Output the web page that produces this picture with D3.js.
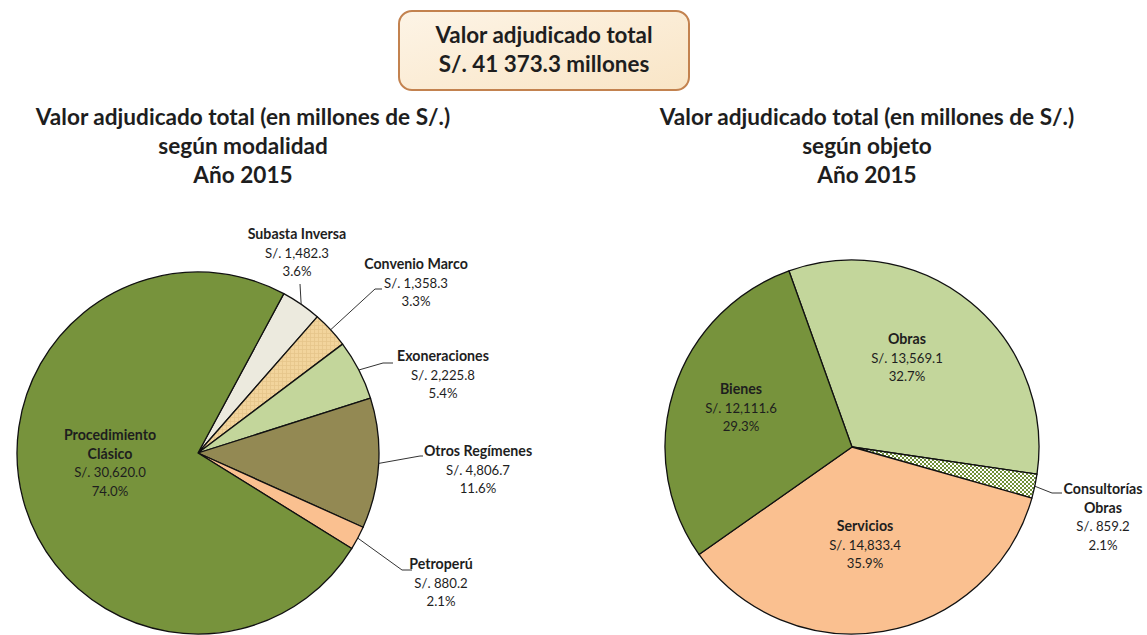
<!DOCTYPE html>
<html><head><meta charset="utf-8">
<script src="https://cdn.jsdelivr.net/npm/d3@7"></script>
<style>
html,body{margin:0;padding:0;background:#fff;}
svg{display:block;font-family:Lato,"Open Sans",sans-serif;}
</style></head>
<body><svg id="c" width="1147" height="635"></svg>
<script>
// ---------- data ----------
const modalidadCats = ["Subasta Inversa","Convenio Marco","Exoneraciones","Otros Regímenes","Petroperú","Procedimiento Clásico"];
const modalidadVals = [1482.3, 1358.3, 2225.8, 4806.7, 880.2, 30620.0];
const modalidadPct  = ["3.6%","3.3%","5.4%","11.6%","2.1%","74.0%"];
const objetoCats = ["Obras","Consultorías Obras","Servicios","Bienes"];
const objetoVals = [13569.1, 859.2, 14833.4, 12111.6];
const objetoPct  = ["32.7%","2.1%","35.9%","29.3%"];
const totalLabel = "S/. 41 373.3 millones";

// ---------- styles / layout ----------
const svg = d3.select("#c");
const defs = svg.append("defs");
const fmt = d3.format(",.1f");
const ink = "#1e1e1e";

const g1 = defs.append("linearGradient").attr("id","boxg").attr("x1",0).attr("y1",0).attr("x2",1).attr("y2",1);
g1.append("stop").attr("offset","0%").attr("stop-color","#fdf4e6");
g1.append("stop").attr("offset","100%").attr("stop-color","#f9e5c6");

const p1 = defs.append("pattern").attr("id","hatch").attr("patternUnits","userSpaceOnUse").attr("width",4).attr("height",4);
p1.append("rect").attr("width",4).attr("height",4).attr("fill","#f2d49c");
p1.append("path").attr("d","M0,0.5H4M0.5,0V4").attr("stroke","#e6c58a").attr("stroke-width",0.8);

const p2 = defs.append("pattern").attr("id","check").attr("patternUnits","userSpaceOnUse").attr("width",4).attr("height",4);
p2.append("rect").attr("width",4).attr("height",4).attr("fill","#ffffff");
p2.append("rect").attr("width",2).attr("height",2).attr("fill","#6f8f36");
p2.append("rect").attr("x",2).attr("y",2).attr("width",2).attr("height",2).attr("fill","#6f8f36");

const modalidadColors = ["#eceade","url(#hatch)","#c3d69b","#938953","#fac090","#77933c"];
const objetoColors = ["#c3d69b","url(#check)","#fac090","#77933c"];

// ---------- header box ----------
svg.append("rect").attr("x",399).attr("y",11).attr("width",290).attr("height",79).attr("rx",13)
  .attr("fill","url(#boxg)").attr("stroke","#c3824f").attr("stroke-width",2);
svg.append("text").attr("x",544).attr("y",43).attr("text-anchor","middle").attr("font-size",22.4).attr("font-weight","bold").attr("fill",ink).text("Valor adjudicado total");
svg.append("text").attr("x",544).attr("y",72).attr("text-anchor","middle").attr("font-size",22.4).attr("font-weight","bold").attr("fill",ink).text(totalLabel);

// ---------- titles ----------
function title(cx, lines){
  lines.forEach((t,i)=>svg.append("text").attr("x",cx).attr("y",125+i*29).attr("text-anchor","middle")
    .attr("font-size",22.6).attr("font-weight","bold").attr("fill",ink).text(t));
}
title(243,["Valor adjudicado total (en millones de S/.)","según modalidad","Año 2015"]);
title(867,["Valor adjudicado total (en millones de S/.)","según objeto","Año 2015"]);

// ---------- pie helper ----------
function drawPie(cx, cy, r, startDeg, cats, vals, pcts, colors, labels){
  const pie = d3.pie().sort(null).startAngle(startDeg*Math.PI/180).endAngle(startDeg*Math.PI/180+2*Math.PI);
  const arcs = pie(vals);
  const arc = d3.arc().innerRadius(0).outerRadius(r);
  const g = svg.append("g").attr("transform",`translate(${cx},${cy})`);
  g.selectAll("path.s").data(arcs).join("path").attr("class","s").attr("d",arc)
    .attr("fill",(d,i)=>colors[i]).attr("stroke","#111").attr("stroke-width",1.3).attr("stroke-linejoin","round");
  arcs.forEach((a,i)=>{
    const L = labels[i];
    const lines = L.name.concat(["S/. "+fmt(vals[i]), pcts[i]]);
    const nb = L.name.length;
    if(L.leader){
      const m = (a.startAngle+a.endAngle)/2;
      const sx = cx + r*Math.sin(m), sy = cy - r*Math.cos(m);
      const [ex,ey] = L.elbow, hx = L.hx;
      svg.append("path").attr("d",`M${sx},${sy}L${ex},${ey}L${hx},${ey}`).attr("fill","none")
        .attr("stroke","#333").attr("stroke-width",1);
    }
    const t = svg.append("text").attr("text-anchor","middle").attr("fill",ink);
    lines.forEach((s,k)=>t.append("tspan").attr("x",L.x).attr("y",L.y+k*18.6)
      .attr("font-size",k<nb?14.2:13.2)
      .attr("font-weight",k<nb?"bold":"normal").text(s));
  });
}

drawPie(198, 453, 181, 28.3, modalidadCats, modalidadVals, modalidadPct, modalidadColors, [
  {name:["Subasta Inversa"], x:297, y:239, leader:true, elbow:[300,284], hx:300},
  {name:["Convenio Marco"], x:416, y:269, leader:true, elbow:[375,289], hx:382},
  {name:["Exoneraciones"], x:443, y:361, leader:true, elbow:[383,363], hx:393},
  {name:["Otros Regímenes"], x:478, y:456, leader:true, elbow:[420,456], hx:423},
  {name:["Petroperú"], x:441, y:569, leader:true, elbow:[402,570], hx:412},
  {name:["Procedimiento","Clásico"], x:110, y:440, leader:false}
]);

drawPie(852, 447, 187, -19.7, objetoCats, objetoVals, objetoPct, objetoColors, [
  {name:["Obras"], x:907, y:344, leader:false},
  {name:["Consultorías","Obras"], x:1103, y:494, leader:true, elbow:[1052,493], hx:1062},
  {name:["Servicios"], x:865, y:531, leader:false},
  {name:["Bienes"], x:741, y:394, leader:false}
]);
</script></body></html>
